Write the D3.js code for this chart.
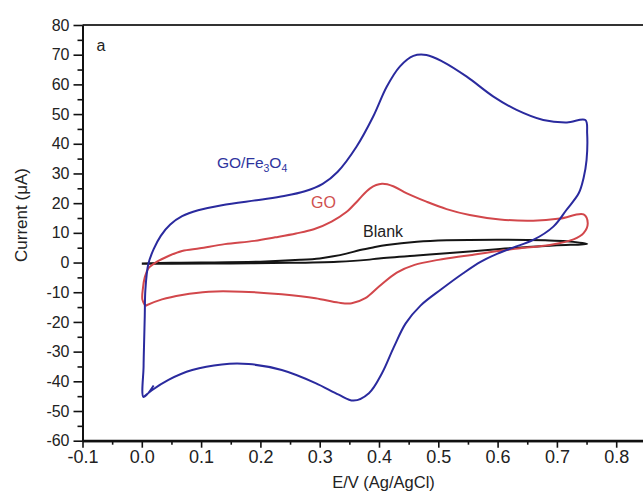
<!DOCTYPE html>
<html lang="en">
<head>
    <meta charset="UTF-8">
    <title>Cyclic voltammograms</title>
    <script src="https://d3js.org/d3.v7.min.js"></script>
    <style>
        body { margin: 0; background: #fff; }
        text { font-family: "Liberation Sans", Arial, sans-serif; }
    </style>
</head>
<body>
    <div id="chart"></div>
    <script>
        // GO/Fe3O4 curve, potential (V) and current (uA)
        const feE = [0.020, 0.003, 0.003, 0.004, 0.005, 0.006, 0.011, 0.020, 0.032, 0.048, 0.068, 0.095, 0.135, 0.197, 0.240, 0.275, 0.305, 0.330, 0.362, 0.390, 0.413, 0.435, 0.458, 0.480, 0.508, 0.548, 0.593, 0.632, 0.677, 0.717, 0.748, 0.751, 0.750, 0.745, 0.737, 0.716, 0.694, 0.660, 0.627, 0.600, 0.572, 0.542, 0.505, 0.470, 0.445, 0.425, 0.405, 0.383, 0.357, 0.332, 0.293, 0.236, 0.180, 0.135, 0.085, 0.045, 0.017, 0.003];
        const feI = [-41.4, -45.3, -35, -26, -18, -9.3, -0.5, 4.5, 9, 12.8, 15.6, 17.6, 19.3, 21.1, 22.4, 24.0, 26.5, 30.5, 39, 49.1, 59.2, 66, 69.6, 69.9, 67.6, 62.6, 55.9, 51.4, 48.0, 47.2, 48.0, 43.5, 34.5, 28.5, 23.4, 17.7, 12.1, 7.6, 5.1, 3.0, 0.3, -3.6, -9.0, -14.5, -20.5, -28.5, -37.3, -44, -46.5, -44.5, -40.6, -36.2, -34.2, -34.3, -36.2, -39.5, -43, -45.3];

        // GO curve
        const goE = [0.006, 0.001, 0.002, 0.005, 0.011, 0.025, 0.045, 0.068, 0.098, 0.140, 0.190, 0.225, 0.260, 0.290, 0.320, 0.345, 0.365, 0.385, 0.405, 0.424, 0.447, 0.480, 0.514, 0.553, 0.604, 0.660, 0.705, 0.745, 0.752, 0.745, 0.728, 0.688, 0.638, 0.604, 0.550, 0.500, 0.460, 0.430, 0.400, 0.377, 0.354, 0.332, 0.293, 0.236, 0.169, 0.113, 0.068, 0.034, 0.009, 0.006];
        const goI = [-14.6, -12.5, -8.5, -5, -2, 0.2, 2.2, 3.9, 4.8, 6.2, 7.3, 8.5, 9.8, 11.2, 13.8, 17, 21, 25, 26.5, 25.7, 23.3, 20.5, 18.0, 16.0, 14.5, 14.1, 14.8, 16.2, 13.2, 9.9, 7.8, 5.9, 4.8, 4.0, 2.4, 0.9, -0.8, -3.4, -8.1, -12, -13.7, -13.5, -12, -10.7, -9.8, -9.8, -10.9, -12.4, -14.3, -14.6];

        // Blank curve
        const blankE = [0.000, 0.05, 0.10, 0.20, 0.267, 0.30, 0.323, 0.345, 0.368, 0.390, 0.413, 0.464, 0.514, 0.604, 0.680, 0.716, 0.751, 0.700, 0.650, 0.604, 0.514, 0.464, 0.400, 0.379, 0.33, 0.25, 0.15, 0.05, 0.00];
        const blankI = [-0.3, -0.1, 0.0, 0.3, 0.9, 1.4, 2.1, 3.0, 4.2, 5.1, 5.9, 7.0, 7.5, 7.7, 7.5, 7.2, 6.3, 5.8, 5.2, 4.6, 3.1, 2.4, 1.4, 0.9, 0.3, -0.1, -0.3, -0.4, -0.4];

        const xTicks = [-0.1, 0.0, 0.1, 0.2, 0.3, 0.4, 0.5, 0.6, 0.7, 0.8];
        const xMinor = [-0.05, 0.05, 0.15, 0.25, 0.35, 0.45, 0.55, 0.65, 0.75];
        const yTicks = [-60, -50, -40, -30, -20, -10, 0, 10, 20, 30, 40, 50, 60, 70, 80];
        const yMinor = [-55, -45, -35, -25, -15, -5, 5, 15, 25, 35, 45, 55, 65, 75];

        const w = 643;
        const h = 493;
        const padLeft = 82.5;
        const padTop = 25;
        const axisY = 440.7;

        const xScale = d3.scaleLinear().domain([-0.1, 0.9]).range([padLeft, padLeft + 593]);
        const yScale = d3.scaleLinear().domain([-60, 80]).range([axisY, padTop]);

        const svg = d3.select('#chart')
            .append('svg')
            .attr("width", w)
            .attr("height", h);

        // top frame
        svg.append('line')
            .attr("x1", padLeft).attr("x2", w)
            .attr("y1", padTop).attr("y2", padTop)
            .attr("stroke", "#333").attr("stroke-width", 1.8);

        const zip = (xs, ys) => xs.map((x, i) => [x, ys[i]]);
        const line = d3.line()
            .x(d => xScale(d[0]))
            .y(d => yScale(d[1]))
            .curve(d3.curveCatmullRom.alpha(0.5));

        const series = [
            { pts: zip(blankE, blankI), color: "#151515" },
            { pts: zip(goE, goI), color: "#d2474b" },
            { pts: zip(feE, feI), color: "#2a2a9e" }
        ];

        svg.selectAll('path.cv')
            .data(series)
            .enter()
            .append('path')
            .attr("class", "cv")
            .attr("d", d => line(d.pts))
            .attr("fill", "none")
            .attr("stroke", d => d.color)
            .attr("stroke-width", 2);

        // axes (plain hyphen for negatives, like the original)
        const fmtX = d => d3.format(".1f")(d).replace("−", "-");
        const fmtY = d => d3.format("d")(d).replace("−", "-");
        const xAxis = d3.axisBottom(xScale).tickValues(xTicks).tickFormat(fmtX)
            .tickSize(7).tickSizeOuter(0).tickPadding(3);
        const xAxisMinor = d3.axisBottom(xScale).tickValues(xMinor).tickFormat("")
            .tickSize(4).tickSizeOuter(0);
        const yAxis = d3.axisLeft(yScale).tickValues(yTicks).tickFormat(fmtY)
            .tickSize(9).tickSizeOuter(0).tickPadding(4);
        const yAxisMinor = d3.axisLeft(yScale).tickValues(yMinor).tickFormat("")
            .tickSize(5).tickSizeOuter(0);

        const gx = svg.append('g')
            .attr("id", "x-axis")
            .attr("transform", "translate(0," + axisY + ")")
            .call(xAxis);
        svg.append('g')
            .attr("transform", "translate(0," + axisY + ")")
            .call(xAxisMinor);
        const gy = svg.append('g')
            .attr("id", "y-axis")
            .attr("transform", "translate(" + padLeft + ",0)")
            .call(yAxis);
        svg.append('g')
            .attr("transform", "translate(" + padLeft + ",0)")
            .call(yAxisMinor);

        // extend x axis line to right edge
        svg.append('line')
            .attr("x1", padLeft).attr("x2", w)
            .attr("y1", axisY).attr("y2", axisY)
            .attr("stroke", "#111").attr("stroke-width", 2);

        svg.selectAll('.domain').attr("stroke", "#111").attr("stroke-width", 2);
        svg.selectAll('.tick line').attr("stroke", "#111").attr("stroke-width", 1.6);
        gx.selectAll('text').attr("font-size", 18).attr("fill", "#222")
            .attr("font-family", "Liberation Sans, Arial, sans-serif");
        gy.selectAll('text').attr("font-size", 16).attr("fill", "#222")
            .attr("font-family", "Liberation Sans, Arial, sans-serif");

        // axis titles
        svg.append('text')
            .attr("x", 383.5).attr("y", 488)
            .attr("text-anchor", "middle")
            .attr("font-size", 16.5).attr("fill", "#222")
            .text("E/V (Ag/AgCl)");
        svg.append('text')
            .attr("transform", "translate(27,215) rotate(-90)")
            .attr("text-anchor", "middle")
            .attr("font-size", 17).attr("fill", "#222")
            .text("Current (μA)");

        svg.append('text')
            .attr("x", 96.5).attr("y", 50.5)
            .attr("font-size", 16).attr("fill", "#222")
            .text("a");

        // curve labels
        const fe = svg.append('text')
            .attr("x", 217).attr("y", 168.3)
            .attr("font-size", 15.5).attr("fill", "#2e349e");
        fe.append('tspan').text("GO/Fe");
        fe.append('tspan').attr("font-size", 10.5).attr("dy", 4).text("3");
        fe.append('tspan').attr("dy", -4).text("O");
        fe.append('tspan').attr("font-size", 10.5).attr("dy", 4).text("4");

        svg.append('text')
            .attr("x", 311).attr("y", 208.3)
            .attr("font-size", 16).attr("fill", "#d0504f")
            .text("GO");
        svg.append('text')
            .attr("x", 363).attr("y", 237.3)
            .attr("font-size", 16).attr("fill", "#222")
            .text("Blank");
    </script>
</body>
</html>
